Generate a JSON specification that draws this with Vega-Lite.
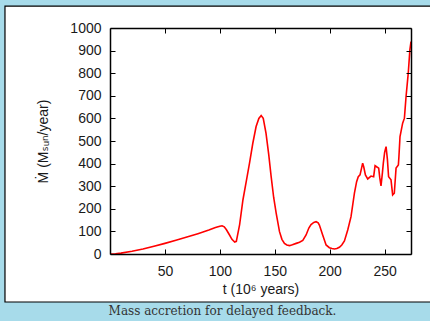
{
  "$schema": "https://vega.github.io/schema/vega-lite/v6.json",
  "autosize": "none",
  "width": 301,
  "height": 226,
  "padding": {"left": 110, "top": 28, "right": 19, "bottom": 67},
  "background": "#a7dbea",
  "config": {
    "font": "Liberation Sans",
    "view": {"stroke": null},
    "axis": {"grid": false, "domainColor": "#000", "domainWidth": 1.5, "tickColor": "#000", "tickWidth": 1, "tickSize": -5, "labelColor": "#1a1a1a", "labelFontSize": 14, "titleFontSize": 14, "titleFontWeight": "normal", "titleColor": "#1a1a1a", "labelFont": "Liberation Sans", "titleFont": "Liberation Sans, DejaVu Sans"}
  },
  "title": {"text": "Mass accretion for delayed feedback.", "orient": "bottom", "anchor": "middle", "frame": "group", "dx": -38, "offset": 3, "font": "DejaVu Serif", "fontSize": 12, "fontWeight": "normal", "color": "#333333"},
  "layer": [
    {
      "data": {"values": [{}]},
      "mark": {"type": "rect", "fill": "#ffffff", "stroke": "#000000", "strokeWidth": 1.2, "clip": false},
      "encoding": {
        "x": {"datum": -95.6, "type": "quantitative", "scale": {"domain": [0, 274], "nice": false, "zero": false}, "axis": {"zindex": 2, "orient": "top", "labels": false, "title": null, "values": [50, 100, 150, 200, 250]}},
        "x2": {"datum": 300},
        "y": {"datum": 1097, "type": "quantitative", "scale": {"domain": [0, 1000], "nice": false}, "axis": {"zindex": 2, "orient": "right", "labels": false, "title": null, "values": [0, 100, 200, 300, 400, 500, 600, 700, 800, 900, 1000]}},
        "y2": {"datum": -212.4}
      }
    },
    {
      "data": {"values": [
        {"t": 0, "m": 0}, {"t": 5, "m": 1}, {"t": 10, "m": 4}, {"t": 20, "m": 12}, {"t": 30, "m": 22}, {"t": 40, "m": 34}, {"t": 50, "m": 47}, {"t": 60, "m": 61}, {"t": 70, "m": 75}, {"t": 80, "m": 90}, {"t": 90, "m": 106}, {"t": 96, "m": 117}, {"t": 100, "m": 123}, {"t": 102, "m": 125}, {"t": 104, "m": 120}, {"t": 106, "m": 107}, {"t": 108.8, "m": 84}, {"t": 111, "m": 65}, {"t": 113.5, "m": 53}, {"t": 115, "m": 56}, {"t": 118, "m": 130}, {"t": 121, "m": 239}, {"t": 124, "m": 320}, {"t": 127, "m": 402}, {"t": 130, "m": 490}, {"t": 133, "m": 564}, {"t": 135.5, "m": 600}, {"t": 137.6, "m": 613}, {"t": 139.5, "m": 600}, {"t": 142, "m": 535}, {"t": 144.5, "m": 440}, {"t": 146.7, "m": 342}, {"t": 149, "m": 250}, {"t": 151.3, "m": 180}, {"t": 154.3, "m": 99}, {"t": 156.5, "m": 65}, {"t": 158.8, "m": 47}, {"t": 161, "m": 40}, {"t": 163.4, "m": 37}, {"t": 166, "m": 41}, {"t": 169.5, "m": 47}, {"t": 172.5, "m": 52}, {"t": 175.5, "m": 60}, {"t": 178.5, "m": 84}, {"t": 181, "m": 115}, {"t": 183, "m": 130}, {"t": 185.5, "m": 140}, {"t": 187.6, "m": 143}, {"t": 189.5, "m": 138}, {"t": 190.6, "m": 128}, {"t": 193.6, "m": 84}, {"t": 196.7, "m": 40}, {"t": 199.7, "m": 28}, {"t": 202, "m": 24}, {"t": 204.3, "m": 22}, {"t": 206.5, "m": 24}, {"t": 208.8, "m": 30}, {"t": 211, "m": 40}, {"t": 213.4, "m": 58}, {"t": 216.4, "m": 106}, {"t": 219.4, "m": 165}, {"t": 222.5, "m": 269}, {"t": 224.5, "m": 320}, {"t": 226, "m": 342}, {"t": 227.6, "m": 350}, {"t": 229, "m": 380}, {"t": 230, "m": 402}, {"t": 231, "m": 385}, {"t": 232.5, "m": 350}, {"t": 234.6, "m": 332}, {"t": 237.6, "m": 345}, {"t": 240, "m": 342}, {"t": 241.3, "m": 391}, {"t": 243, "m": 385}, {"t": 244.6, "m": 380}, {"t": 245.5, "m": 340}, {"t": 246.7, "m": 301}, {"t": 248, "m": 360}, {"t": 248.8, "m": 402}, {"t": 250, "m": 450}, {"t": 251.3, "m": 475}, {"t": 252.5, "m": 420}, {"t": 253.6, "m": 342}, {"t": 255.8, "m": 328}, {"t": 257.3, "m": 261}, {"t": 258.8, "m": 269}, {"t": 260.4, "m": 380}, {"t": 262.5, "m": 394}, {"t": 263, "m": 430}, {"t": 264, "m": 520}, {"t": 266.4, "m": 579}, {"t": 268, "m": 601}, {"t": 269.5, "m": 697}, {"t": 271.5, "m": 800}, {"t": 273, "m": 904}, {"t": 274, "m": 940}
      ]},
      "mark": {"type": "line", "color": "#ff0000", "strokeWidth": 1.6, "clip": true},
      "encoding": {
        "x": {"field": "t", "type": "quantitative", "axis": {"zindex": 2, "orient": "bottom", "title": "t (10⁶ years)", "values": [50, 100, 150, 200, 250], "labelPadding": 15, "titlePadding": 4}},
        "y": {"field": "m", "type": "quantitative", "axis": {"zindex": 2, "orient": "left", "format": "d", "title": "Ṁ (Mₛᵤₙ/year)", "values": [0, 100, 200, 300, 400, 500, 600, 700, 800, 900, 1000], "labelPadding": 14, "titleX": -67, "titleY": 113, "titleBaseline": "middle", "titleAlign": "center", "titleAngle": -90}}
      }
    }
  ],
  "resolve": {"axis": {"x": "independent", "y": "independent"}}
}
